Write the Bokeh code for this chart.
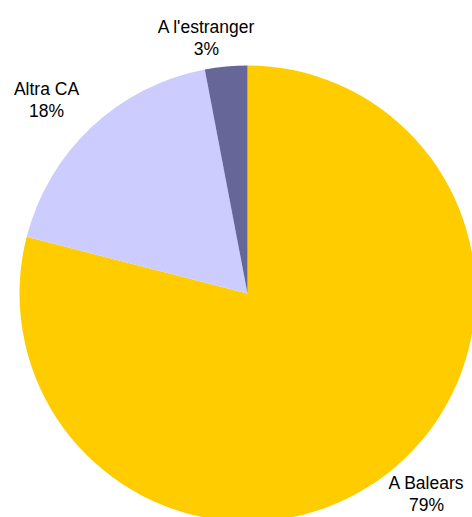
import math
from bokeh.plotting import figure
from bokeh.models import Range1d, ColumnDataSource
from bokeh.core.properties import value
from bokeh.embed import file_html
from bokeh.resources import INLINE

# ---- data ----
categories = ["A Balears", "Altra CA", "A l'estranger"]
values = [79, 18, 3]
pct_labels = ["79%", "18%", "3%"]

# ---- styles / layout ----
colors = ["#FFCC00", "#CCCCFF", "#666699"]
cx, cy, R = 247, -293, 228
# label anchor (center x, baseline of first line) in page pixels
label_pos = [(426, 482), (46, 88), (206, 26)]
line_gap = 22

W, H = 472, 517
p = figure(width=W, height=H, output_backend="svg", toolbar_location=None,
           x_range=Range1d(0, W), y_range=Range1d(-H, 0),
           min_border=0, outline_line_color=None)
p.axis.visible = False
p.grid.visible = False
p.background_fill_color = "white"
p.border_fill_color = "white"

total = sum(values)
starts, ends = [], []
acc = 0.0
for v in values:
    a0 = math.pi / 2 - 2 * math.pi * acc / total
    acc += v
    a1 = math.pi / 2 - 2 * math.pi * acc / total
    starts.append(a0)
    ends.append(a1)

src = ColumnDataSource(dict(start=starts, end=ends, color=colors))
p.wedge(x=cx, y=cy, radius=R, start_angle="start", end_angle="end",
        direction="clock", fill_color="color", line_color=None, source=src)

tx, ty, tt = [], [], []
for (lx, ly), name, pct in zip(label_pos, categories, pct_labels):
    tx += [lx, lx]
    ty += [-ly, -(ly + line_gap)]
    tt += [name, pct]
p.text(x=tx, y=ty, text=tt, text_align="center", text_baseline="alphabetic",
       text_font=value("Liberation Sans"), text_font_size="17.5px", text_color="black")

open("out.html", "w").write(file_html(p, INLINE))
